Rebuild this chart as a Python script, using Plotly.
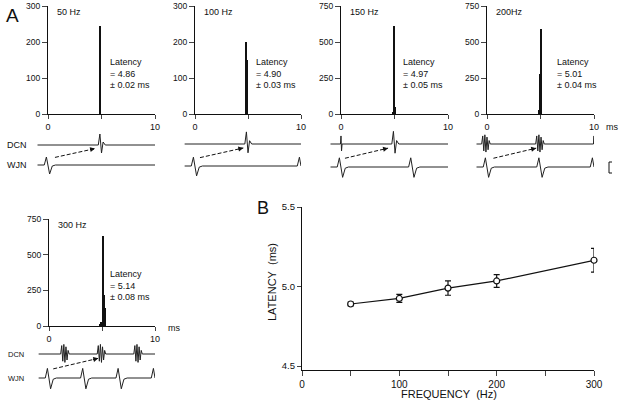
import plotly.graph_objects as go

W, H = 623, 407

# ---- panel A : latency histograms ----
freq_labels = ["50 Hz", "100 Hz", "150 Hz", "200Hz", "300 Hz"]
latency_txt = ["4.86", "4.90", "4.97", "5.01", "5.14"]
sem_txt = ["0.02", "0.03", "0.05", "0.04", "0.08"]

bins_50 = [4.85]
counts_50 = [245]
bins_100 = [4.8, 4.9]
counts_100 = [200, 150]
bins_150 = [4.85, 4.95, 5.05]
counts_150 = [15, 610, 50]
bins_200 = [4.85, 4.95, 5.05]
counts_200 = [30, 275, 590]
bins_300 = [4.85, 4.95, 5.05, 5.15, 5.25]
counts_300 = [8, 25, 630, 215, 125]

y_max = [300, 300, 750, 750, 750]
y_ticks_small = [0, 100, 200, 300]
y_ticks_big = [0, 250, 500, 750]

# ---- example sweeps (ms) ----
t_start, t_end = -1.0, 10.0
wjn_stim_50 = [0.0]
dcn_spk_50 = [4.9]
wjn_stim_100 = [0.0, 10.0]
dcn_spk_100 = [4.9]
wjn_stim_150 = [0.0, 6.67]
dcn_spk_150 = [4.95]
dcn_art_150 = [0.0]
wjn_stim_200 = [0.0, 5.0, 10.0]
dcn_burst_200 = [-0.1, 4.95]
dcn_art_200 = [10.0]
wjn_stim_300 = [0.0, 3.33, 6.67, 10.0]
dcn_burst_300 = [1.5, 4.95, 8.4]

# waveform shapes
wjn_dt = [-0.35, -0.15, 0.15, 0.4, 0.7]
wjn_dv = [0.0, 0.4, -0.45, -0.05, 0.0]
dcn_dt = [-0.2, -0.05, 0.1, 0.25, 0.45]
dcn_dv = [0.0, 0.55, -0.4, 0.15, 0.0]
burst_dt = [-0.4, -0.3, -0.2, -0.1, 0.0, 0.1, 0.2, 0.3, 0.4]
burst_dv = [0.0, 0.35, -0.3, 0.4, -0.35, 0.3, -0.25, 0.15, 0.0]
art_dt = [-0.05, 0.0, 0.05, 0.1]
art_dv = [0.0, 0.35, -0.3, 0.0]

arrow_t0 = [0.65, 0.47, 0.37, 0.6, 0.4]
arrow_t1 = [4.4, 4.56, 4.4, 4.6, 4.65]

# ---- panel B ----
freq = [50, 100, 150, 200, 300]
latency = [4.89, 4.925, 4.99, 5.035, 5.165]
latency_err = [0.012, 0.025, 0.045, 0.04, 0.075]

FONT = "Liberation Sans, Arial, sans-serif"
INK = "#111111"


def px_x(p):
    return p / W


def px_y(p):
    return 1 - p / H


def ax(n):
    return "" if n == 1 else str(n)


def sweep(offset, events):
    # events: list of (time, dt list, dv list)
    pts = []
    for t0, dts, dvs in events:
        for dt, dv in zip(dts, dvs):
            t = t0 + dt
            if t_start <= t <= t_end:
                pts.append((t, offset + dv))
    pts.sort(key=lambda p: p[0])
    xs = [t_start] + [p[0] for p in pts] + [t_end]
    ys = [offset] + [p[1] for p in pts] + [offset]
    return xs, ys


fig = go.Figure()
layout = {}
annotations = []

hist_bins = [bins_50, bins_100, bins_150, bins_200, bins_300]
hist_counts = [counts_50, counts_100, counts_150, counts_200, counts_300]

# pixel boxes of histogram plot areas: (left, right, top, bottom)
hist_box = [(48, 155, 6, 114), (195, 301, 6, 114), (341, 448, 6, 114),
            (487, 594, 6, 114), (49, 155, 219, 326)]
# sweep axes: (dcn px, wjn px)
sweep_pos = [(145, 165), (144, 166), (144, 167), (144, 167), (354, 378)]

wjn_events = [
    [(s, wjn_dt, wjn_dv) for s in wjn_stim_50],
    [(s, wjn_dt, wjn_dv) for s in wjn_stim_100],
    [(s, wjn_dt, wjn_dv) for s in wjn_stim_150],
    [(s, wjn_dt, wjn_dv) for s in wjn_stim_200],
    [(s, wjn_dt, wjn_dv) for s in wjn_stim_300],
]
dcn_events = [
    [(s, dcn_dt, dcn_dv) for s in dcn_spk_50],
    [(s, dcn_dt, dcn_dv) for s in dcn_spk_100],
    [(s, dcn_dt, dcn_dv) for s in dcn_spk_150] + [(s, art_dt, art_dv) for s in dcn_art_150],
    [(s, burst_dt, burst_dv) for s in dcn_burst_200] + [(s, art_dt, art_dv) for s in dcn_art_200],
    [(s, burst_dt, burst_dv) for s in dcn_burst_300],
]

for i in range(5):
    n = ax(i + 1)
    l, r, t, b = hist_box[i]
    fig.add_trace(go.Bar(
        x=hist_bins[i], y=hist_counts[i], width=0.09,
        marker=dict(color=INK, line=dict(width=0)),
        xaxis=f"x{n}", yaxis=f"y{n}", showlegend=False,
    ))
    layout[f"xaxis{n}"] = dict(
        domain=[px_x(l), px_x(r)], range=[0, 10], anchor=f"y{n}",
        tickvals=[0, 5, 10], ticktext=["0", "", "10"], ticks="outside",
        ticklen=4, tickwidth=1, showline=True, linecolor=INK, linewidth=1.3,
        showgrid=False, zeroline=False, tickfont=dict(size=9, color=INK),
        automargin=False,
    )
    layout[f"yaxis{n}"] = dict(
        domain=[px_y(b), px_y(t)], range=[0, y_max[i]], anchor=f"x{n}",
        tickvals=y_ticks_small if y_max[i] == 300 else y_ticks_big,
        ticks="outside", ticklen=5, tickwidth=1, showline=True,
        linecolor=INK, linewidth=1.3, showgrid=False, zeroline=False,
        tickfont=dict(size=8.5, color=INK), automargin=False,
    )
    annotations.append(dict(
        text=freq_labels[i], xref=f"x{n} domain", yref=f"y{n} domain",
        x=0.07, y=0.94, xanchor="left", yanchor="middle", showarrow=False,
        font=dict(size=9, color=INK, family=FONT),
    ))
    lx = 0.635 if i == 3 else 0.56
    annotations.append(dict(
        text=f"Latency<br>= {latency_txt[i]}<br>± {sem_txt[i]} ms",
        xref=f"x{n} domain", yref=f"y{n} domain", x=lx, y=0.55,
        xanchor="left", yanchor="top", align="left", showarrow=False,
        font=dict(size=9, color=INK, family=FONT),
    ))

    # sweeps
    m = ax(i + 6)
    dcn_px, wjn_px = sweep_pos[i]
    unit = wjn_px - dcn_px
    span = (r - l) / 10.0
    layout[f"xaxis{m}"] = dict(
        domain=[px_x(l - span * 1.0), px_x(r)], range=[t_start, t_end],
        visible=False, anchor=f"y{m}", automargin=False,
    )
    layout[f"yaxis{m}"] = dict(
        domain=[px_y(wjn_px + unit * 1.0), px_y(wjn_px - unit * 2.0)],
        range=[-1.0, 2.0], visible=False, anchor=f"x{m}", automargin=False,
    )
    for off, ev in [(1.0, dcn_events[i]), (0.0, wjn_events[i])]:
        xs, ys = sweep(off, ev)
        fig.add_trace(go.Scatter(
            x=xs, y=ys, mode="lines", line=dict(color="#222222", width=1),
            xaxis=f"x{m}", yaxis=f"y{m}", showlegend=False, hoverinfo="skip",
        ))
    y0, y1 = 0.38, 0.82
    fig.add_trace(go.Scatter(
        x=[arrow_t0[i], arrow_t1[i]], y=[y0, y1], mode="lines",
        line=dict(color=INK, width=1, dash="4px,2px"),
        xaxis=f"x{m}", yaxis=f"y{m}", showlegend=False, hoverinfo="skip",
    ))
    tx = arrow_t0[i] + 0.85 * (arrow_t1[i] - arrow_t0[i])
    ty = y0 + 0.85 * (y1 - y0)
    annotations.append(dict(
        x=arrow_t1[i], y=y1, ax=tx, ay=ty, xref=f"x{m}", yref=f"y{m}",
        axref=f"x{m}", ayref=f"y{m}", showarrow=True, arrowhead=2,
        arrowsize=1, arrowwidth=1, arrowcolor=INK, text="",
    ))

# labels of sweeps
for txt, px, py, sz in [("DCN", 5, 145, 9), ("WJN", 5, 165, 9),
                        ("DCN", 6, 354, 7.5), ("WJN", 6, 378, 7.5),
                        ("ms", 604, 127, 9), ("ms", 166, 328, 9)]:
    annotations.append(dict(
        text=txt, xref="paper", yref="paper", x=px_x(px), y=px_y(py),
        xanchor="left", yanchor="middle", showarrow=False,
        font=dict(size=sz, color=INK, family=FONT),
    ))

annotations.append(dict(text="A", xref="paper", yref="paper", x=px_x(4),
                        y=px_y(15), xanchor="left", yanchor="middle",
                        showarrow=False, font=dict(size=19, color=INK, family=FONT)))
annotations.append(dict(text="B", xref="paper", yref="paper", x=px_x(255),
                        y=px_y(208), xanchor="left", yanchor="middle",
                        showarrow=False, font=dict(size=18, color=INK, family=FONT)))
# axis titles of panel B
annotations.append(dict(text="FREQUENCY&nbsp;&nbsp;(Hz)", xref="paper", yref="paper",
                        x=px_x(449), y=px_y(394), xanchor="center", yanchor="middle",
                        showarrow=False, font=dict(size=11, color=INK, family=FONT)))
annotations.append(dict(text="LATENCY&nbsp;&nbsp;(ms)", xref="paper", yref="paper",
                        x=px_x(272), y=px_y(282), xanchor="center", yanchor="middle",
                        textangle=-90, showarrow=False,
                        font=dict(size=11, color=INK, family=FONT)))

# ---- panel B ----
fig.add_trace(go.Scatter(
    x=freq, y=latency, mode="lines+markers",
    line=dict(color=INK, width=1.2),
    marker=dict(symbol="circle", size=6, color="white", line=dict(color=INK, width=1.2)),
    error_y=dict(type="data", array=latency_err, color=INK, thickness=1.2, width=3),
    xaxis="x11", yaxis="y11", showlegend=False, cliponaxis=False,
))
layout["xaxis11"] = dict(
    domain=[px_x(302), px_x(594)], range=[0, 300], anchor="y11",
    tickvals=[0, 50, 100, 150, 200, 250, 300],
    ticktext=["0", "", "100", "", "200", "", "300"],
    ticks="outside", ticklen=5, tickwidth=1, showline=True, linecolor=INK,
    linewidth=1.3, showgrid=False, zeroline=False,
    tickfont=dict(size=10, color=INK), automargin=False,
)
layout["yaxis11"] = dict(
    domain=[px_y(370), px_y(207)], range=[4.475, 5.5], anchor="x11",
    tickvals=[4.5, 5.0, 5.5], ticktext=["4.5", "5.0", "5.5"],
    ticks="outside", ticklen=4, tickwidth=1, showline=True, linecolor=INK,
    linewidth=1.3, showgrid=False, zeroline=False,
    tickfont=dict(size=9.5, color=INK), automargin=False,
)

# calibration bracket next to the 200 Hz sweeps
shapes = [dict(
    type="path", xref="paper", yref="paper",
    path=f"M {px_x(612)},{px_y(162)} L {px_x(609)},{px_y(162)} "
         f"L {px_x(609)},{px_y(173)} L {px_x(612)},{px_y(173)}",
    line=dict(color=INK, width=1),
)]

fig.update_layout(
    width=W, height=H, margin=dict(l=0, r=0, t=0, b=0, pad=0),
    paper_bgcolor="white", plot_bgcolor="white",
    font=dict(family=FONT, color=INK), bargap=0,
    annotations=annotations, shapes=shapes, showlegend=False,
    **layout,
)

fig.write_html("out.html", config={"displayModeBar": False},
               post_script="document.body.style.margin='0';")
